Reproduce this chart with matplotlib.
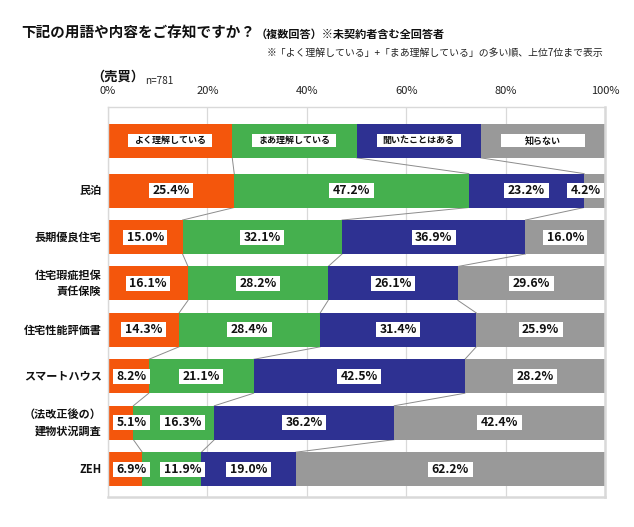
import matplotlib
matplotlib.use('Agg')
import matplotlib.pyplot as plt
from matplotlib.patches import Rectangle
import numpy as np

plt.rcParams['font.family'] = ['Noto Sans CJK JP', 'DejaVu Sans']

categories = ['民泊', '長期優良住宅', '住宅瑕疵担保\n責任保険', '住宅性能評価書',
              'スマートハウス', '（法改正後の）\n建物状況調査', 'ZEH']
series_names = ['よく理解している', 'まあ理解している', '聞いたことはある', '知らない']
well = [25.4, 15.0, 16.1, 14.3, 8.2, 5.1, 6.9]
somewhat = [47.2, 32.1, 28.2, 28.4, 21.1, 16.3, 11.9]
heard = [23.2, 36.9, 26.1, 31.4, 42.5, 36.2, 19.0]
unknown = [4.2, 16.0, 29.6, 25.9, 28.2, 42.4, 62.2]
legend_shares = [25, 25, 25, 25]
xticks = [0, 20, 40, 60, 80, 100]
colors = ['#F4560C', '#45B04E', '#2E3192', '#999999']

W, H = 634, 527
fig = plt.figure(figsize=(W / 100, H / 100), dpi=100)
ax = fig.add_axes([108 / W, 1 - 497 / H, 497 / W, 390 / H])

values = np.array([well, somewhat, heard, unknown]).T
n = len(categories)
ypos = np.arange(n)
yleg = -1.07
bh = 0.73
ax.set_xlim(0, 100)
ax.set_ylim(6.6, -1.8)

# legend bar
left = 0
for share, c in zip(legend_shares, colors):
    ax.barh(yleg, share, left=left, height=bh, color=c, zorder=2)
    left += share

cum = np.zeros(n)
for s in range(4):
    ax.barh(ypos, values[:, s], left=cum, height=bh, color=colors[s], zorder=2)
    cum += values[:, s]

# series lines
leg_cum = np.cumsum(legend_shares)
data_cum = np.cumsum(values, axis=1)
rows_y = [yleg] + list(ypos)
rows_cum = [leg_cum] + list(data_cum)
for i in range(len(rows_y) - 1):
    for k in range(3):
        ax.plot([rows_cum[i][k], rows_cum[i + 1][k]],
                [rows_y[i] + bh / 2, rows_y[i + 1] - bh / 2],
                color='#8C8C8C', lw=0.7, zorder=1)

ax.set_xticks(xticks)
ax.xaxis.tick_top()
ax.set_xticklabels([f'{t}%' for t in xticks])
ax.tick_params(axis='x', length=0, pad=8, labelsize=8, labelcolor='#222222')
ax.set_yticks([])
ax.grid(axis='x', color='#D9D9D9', lw=0.9, zorder=0)
ax.set_axisbelow(True)
for sp in ax.spines.values():
    sp.set_color('#D9D9D9')
    sp.set_linewidth(1.0)
ax.spines['right'].set_linewidth(1.8)
ax.spines['bottom'].set_linewidth(1.8)

# category labels
for y, lab in zip(ypos, categories):
    ax.text(-1.3, y, lab, ha='right', va='center', fontsize=8, fontweight='bold',
            linespacing=1.3, multialignment='right', color='#111111')

# titles
t1 = fig.text(21 / W, 1 - 38 / H, '下記の用語や内容をご存知ですか？', fontsize=10.5,
              fontweight='bold', va='baseline', ha='left', color='#111111')
t3 = fig.text(603 / W, 1 - 53 / H, '※「よく理解している」+「まあ理解している」の多い順、上位7位まで表示',
              fontsize=7.1, ha='right', va='center', color='#222222')
t4 = fig.text(91 / W, 1 - 77 / H, '（売買）', fontsize=9.5, fontweight='bold',
              ha='left', va='center', color='#111111')

fig.canvas.draw()
r = fig.canvas.get_renderer()
e1 = t1.get_window_extent(r)
fig.text((e1.x1 + 1) / W, 1 - 38 / H, '（複数回答）※未契約者含む全回答者', fontsize=8,
         fontweight='bold', va='baseline', ha='left', color='#111111')
e4 = t4.get_window_extent(r)
fig.text((e4.x1 + 1) / W, 1 - 81 / H, 'n=781', fontsize=7.2, va='center', ha='left',
         color='#222222')

p0 = ax.transData.transform((0, 0))
pxx = ax.transData.transform((1, 0))[0] - p0[0]
pxy = abs(ax.transData.transform((0, 1))[1] - p0[1])

# legend labels
starts = np.concatenate([[0], leg_cum[:-1]])
for s in range(4):
    c = starts[s] + legend_shares[s] / 2
    bw = 84 / pxx
    bhh = 13 / pxy
    ax.add_patch(Rectangle((c - bw / 2, yleg - bhh / 2), bw, bhh, facecolor='white',
                           edgecolor='none', zorder=4))
    ax.text(c, yleg, series_names[s], ha='center', va='center', fontsize=6.5,
            fontweight='bold', color='#111111', zorder=5)

# value labels
for i in range(n):
    st = np.concatenate([[0], data_cum[i][:-1]])
    texts = []
    for s in range(4):
        c = st[s] + values[i, s] / 2
        t = ax.text(c, ypos[i], f'{values[i, s]:.1f}%', ha='center', va='center',
                    fontsize=8.8, fontweight='bold', color='#111111', zorder=5)
        texts.append(t)
    fig.canvas.draw()
    widths = [(t.get_window_extent(r).width + 7) / pxx for t in texts]
    centers = [t.get_position()[0] for t in texts]
    prev_right = None
    new_c = []
    for s in range(4):
        lft = centers[s] - widths[s] / 2
        if prev_right is None:
            lft = max(lft, 5 / pxx)
        else:
            lft = max(lft, prev_right + 10 / pxx)
        rgt = lft + widths[s]
        if rgt > 100 - 1 / pxx:
            rgt = 100 - 1 / pxx
            lft = rgt - widths[s]
        new_c.append(lft + widths[s] / 2)
        prev_right = rgt
    bhh = 15 / pxy
    for s in range(4):
        texts[s].set_x(new_c[s])
        ax.add_patch(Rectangle((new_c[s] - widths[s] / 2, ypos[i] - bhh / 2), widths[s], bhh,
                               facecolor='white', edgecolor='none', zorder=4))

fig.savefig('out.png', dpi=100)
